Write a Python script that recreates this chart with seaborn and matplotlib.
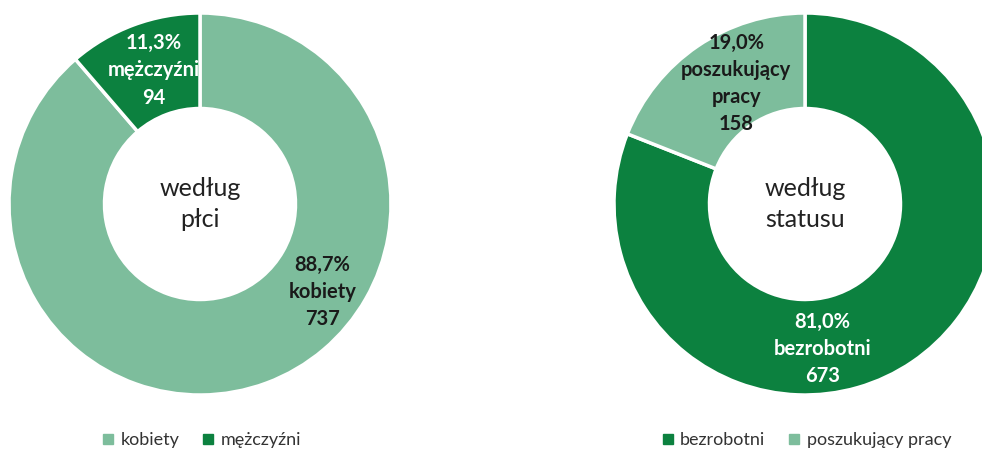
import matplotlib
matplotlib.use("Agg")
import matplotlib.pyplot as plt
import seaborn as sns
from matplotlib.lines import Line2D

# Dane
plec_kategorie = ["kobiety", "mężczyźni"]
plec_wartosci = [737, 94]
plec_procenty = ["88,7%", "11,3%"]

status_kategorie = ["bezrobotni", "poszukujący pracy"]
status_etykiety = ["bezrobotni", "poszukujący\npracy"]
status_wartosci = [673, 158]
status_procenty = ["81,0%", "19,0%"]

JASNY = "#7dbd9c"
CIEMNY = "#0c813f"

sns.set_theme(style="white")
plt.rcParams["font.family"] = ["Lato", "DejaVu Sans"]

fig = plt.figure(figsize=(9.82, 4.53), dpi=100)
W, H = 982, 453
R = 191


def os_donut(cx, cy):
    ax = fig.add_axes([(cx - R) / W, (H - cy - R) / H, 2 * R / W, 2 * R / H])
    ax.set_xlim(-1, 1)
    ax.set_ylim(-1, 1)
    ax.set_aspect("equal")
    ax.axis("off")
    return ax


def donut(ax, wartosci, kolory, srodek, etykiety, pozycje, kolory_tekstu):
    ax.pie(wartosci, colors=kolory, startangle=90, counterclock=False,
           radius=1, wedgeprops=dict(width=0.5, edgecolor="white", linewidth=2.5))
    ax.set_xlim(-1, 1)
    ax.set_ylim(-1, 1)
    ax.text(0, 0, srodek, ha="center", va="center", fontsize=18,
            color="#222222", linespacing=1.45)
    for tekst, (x, y), kol in zip(etykiety, pozycje, kolory_tekstu):
        ax.text(x, y, tekst, ha="center", va="center", fontsize=14.5,
                fontweight="bold", color=kol, linespacing=1.45)


# według płci
ax1 = os_donut(200, 204)
et1 = [f"{p}\n{k}\n{v}" for p, k, v in zip(plec_procenty, plec_kategorie, plec_wartosci)]
donut(ax1, plec_wartosci, [JASNY, CIEMNY], "według\npłci", et1,
      [(0.64, -0.46), (-0.24, 0.70)], ["#1a1a1a", "white"])

# według statusu
ax2 = os_donut(805, 204)
et2 = [f"{p}\n{k}\n{v}" for p, k, v in zip(status_procenty, status_etykiety, status_wartosci)]
donut(ax2, status_wartosci, [CIEMNY, JASNY], "według\nstatusu", et2,
      [(0.09, -0.76), (-0.36, 0.63)], ["white", "#1a1a1a"])


def legenda(cx, kategorie, kolory):
    uchwyty = [Line2D([], [], marker="s", linestyle="", markersize=7,
                      markerfacecolor=k, markeredgecolor=k) for k in kolory]
    fig.legend(uchwyty, kategorie, loc="center", bbox_to_anchor=(cx / W, 1 - 440 / H),
               ncol=len(kategorie), frameon=False, fontsize=13,
               handletextpad=0.2, columnspacing=1.1, handlelength=1.0,
               labelcolor="#333333")


legenda(200, plec_kategorie, [JASNY, CIEMNY])
legenda(805, status_kategorie, [CIEMNY, JASNY])

fig.savefig("out.png", dpi=100, facecolor="white")
